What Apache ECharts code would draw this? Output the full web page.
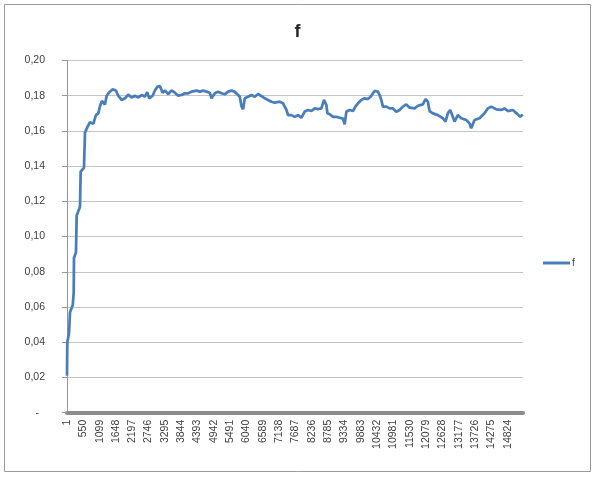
<!DOCTYPE html>
<html>
<head>
<meta charset="utf-8">
<script src="https://cdn.jsdelivr.net/npm/echarts@6/dist/echarts.min.js"></script>
<style>html,body{margin:0;padding:0;background:#fff}#c{width:595px;height:477px}</style>
</head>
<body>
<div id="c"></div>
<script>
// category index (0-based, label = index+1) of each sampled point
var xIdx = [0,10,67,101,192,225,235,302,326,437,460,571,605,682,773,884,974,1052,1109,1176,1277,1334,1421,1536,1646,1724,1838,1949,2060,2174,2285,2396,2510,2621,2698,2765,2880,2957,3034,3125,3216,3293,3404,3518,3629,3740,3854,3965,4076,4190,4244,4358,4469,4580,4693,4805,4862,4973,5084,5198,5309,5420,5534,5588,5645,5700,5813,5870,5924,5981,6092,6206,6317,6428,6542,6653,6764,6878,6989,7157,7268,7382,7436,7550,7661,7772,7884,7997,8108,8222,8333,8444,8558,8645,8726,8760,8837,8948,9062,9173,9284,9341,9398,9509,9620,9701,9788,9902,10013,10124,10214,10292,10349,10460,10517,10574,10628,10742,10853,10964,11078,11189,11300,11414,11525,11693,11804,11972,12062,12140,12197,12308,12476,12644,12734,12811,12892,12980,13037,13148,13262,13430,13541,13598,13709,13877,14045,14156,14270,14438,14606,14717,14828,14996,15164,15245,15332];
var fVals = [0.021,0.040,0.045,0.057,0.061,0.068,0.088,0.091,0.112,0.117,0.137,0.139,0.159,0.162,0.165,0.164,0.169,0.170,0.174,0.177,0.175,0.180,0.182,0.1836,0.183,0.180,0.1776,0.1785,0.1806,0.179,0.180,0.179,0.1804,0.1795,0.182,0.1785,0.180,0.183,0.185,0.1855,0.1817,0.183,0.181,0.183,0.1817,0.180,0.1804,0.1814,0.1814,0.1823,0.183,0.1829,0.1823,0.1829,0.1823,0.1817,0.1785,0.1814,0.1823,0.1814,0.1808,0.1823,0.1829,0.184,0.1823,0.1814,0.1794,0.174,0.1723,0.1785,0.1794,0.1804,0.1794,0.181,0.1798,0.1785,0.1776,0.1766,0.176,0.1766,0.1757,0.1719,0.169,0.169,0.168,0.169,0.1675,0.171,0.1719,0.1713,0.1728,0.1724,0.1728,0.1776,0.1747,0.170,0.1695,0.168,0.168,0.1675,0.167,0.1638,0.171,0.1719,0.1713,0.1738,0.1757,0.1776,0.1785,0.1781,0.1794,0.1814,0.1827,0.1823,0.1804,0.1776,0.1738,0.1738,0.1728,0.1728,0.1709,0.1719,0.1738,0.1751,0.1732,0.1728,0.1743,0.1751,0.1781,0.1766,0.1713,0.170,0.169,0.1672,0.1653,0.170,0.1719,0.168,0.1653,0.169,0.1672,0.1662,0.1643,0.1615,0.1662,0.1672,0.170,0.1728,0.1738,0.1723,0.1719,0.1728,0.1713,0.1719,0.1694,0.168,0.1694];
var seriesName = 'f';
var titleText = 'f';
var xLabelStep = 549;
var xCount = 15340;
var yMin = 0, yMax = 0.20, yStep = 0.02;

var data = xIdx.map(function (x, i) { return [x, fVals[i]]; });
var font = 'Liberation Sans';
var chart = echarts.init(document.getElementById('c'), null, {renderer: 'canvas'});
chart.setOption({
  animation: false,
  backgroundColor: '#fff',
  title: {
    text: titleText, left: 'center', top: 18,
    textStyle: {fontFamily: font, fontSize: 18, fontWeight: 'bold', color: '#262626'}
  },
  legend: {
    data: [seriesName], left: 538, top: 253, orient: 'vertical',
    icon: 'rect', itemWidth: 27, itemHeight: 3, itemGap: 2,
    textStyle: {fontFamily: font, fontSize: 10, color: '#404040', padding: [0, 0, 0, -3]}
  },
  grid: {left: 67, right: 72, top: 60.5, bottom: 64.3, containLabel: false},
  xAxis: {
    type: 'value', min: 0, max: xCount, interval: xLabelStep,
    axisLine: {show: true, onZero: false, lineStyle: {color: '#8c8c8c', width: 4}},
    axisTick: {show: false},
    splitLine: {show: false},
    axisLabel: {
      rotate: 90, margin: 7, showMaxLabel: false,
      fontFamily: font, fontSize: 10.5, color: '#404040',
      formatter: function (v) { return v % xLabelStep === 0 ? String(v + 1) : ''; }
    }
  },
  yAxis: {
    type: 'value', min: yMin, max: yMax, interval: yStep,
    axisLine: {show: true, lineStyle: {color: '#969696', width: 1}},
    axisTick: {show: true, inside: false, length: 5, lineStyle: {color: '#969696'}},
    splitLine: {show: true, lineStyle: {color: '#c4c4c4', width: 1}},
    axisLabel: {
      margin: 22, fontFamily: font, fontSize: 10.5, color: '#404040',
      formatter: function (v) {
        if (Math.abs(v) < 1e-9) return '{z|-}';
        return v.toFixed(2).replace('.', ',');
      },
      rich: {z: {padding: [0, 6, 0, 0], fontFamily: font, fontSize: 10.5, color: '#404040'}}
    }
  },
  series: [{
    name: seriesName, type: 'line', data: data, showSymbol: false, symbol: 'none',
    lineStyle: {color: '#4A7EBB', width: 2.75}, itemStyle: {color: '#4A7EBB'}
  }],
  graphic: [{
    type: 'rect', shape: {x: 4.5, y: 4.5, width: 586, height: 467},
    style: {fill: null, stroke: '#9a9a9a', lineWidth: 1}, silent: true, z: -1
  }]
});
</script>
</body>
</html>
